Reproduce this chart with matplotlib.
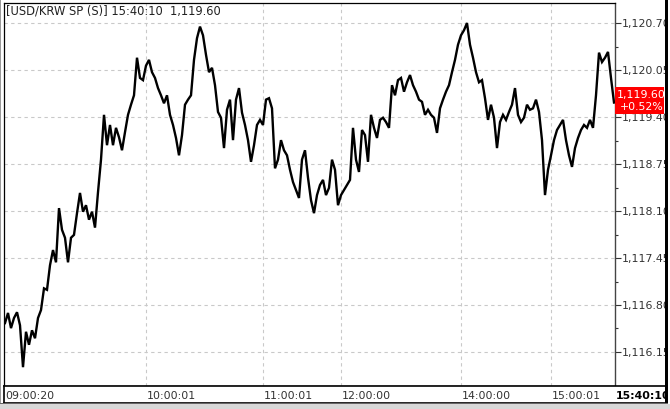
import matplotlib
matplotlib.use("Agg")
import matplotlib.pyplot as plt
from matplotlib.patches import Rectangle
from matplotlib.ticker import FixedLocator, FuncFormatter
import matplotlib.transforms as mtransforms

# ---------------- data ----------------
title_text = "[USD/KRW SP (S)] 15:40:10  1,119.60"
last_price = "1,119.60"
change_pct = "+0.52%"

price = [
    1116.55, 1116.69, 1116.48, 1116.62, 1116.70, 1116.52, 1115.94, 1116.43, 1116.25, 1116.45,
    1116.34, 1116.62, 1116.73, 1117.03, 1117.01, 1117.35, 1117.56, 1117.39, 1118.14, 1117.84,
    1117.73, 1117.39, 1117.73, 1117.77, 1118.07, 1118.35, 1118.09, 1118.18, 1117.98, 1118.09,
    1117.87, 1118.36, 1118.81, 1119.43, 1119.01, 1119.29, 1119.01, 1119.25, 1119.12, 1118.94,
    1119.19, 1119.43, 1119.57, 1119.70, 1120.22, 1119.94, 1119.91, 1120.11, 1120.19, 1120.02,
    1119.94, 1119.80, 1119.70, 1119.59, 1119.70, 1119.43, 1119.29, 1119.11, 1118.87, 1119.15,
    1119.57, 1119.64, 1119.70, 1120.19, 1120.49, 1120.65, 1120.53, 1120.26, 1120.02, 1120.08,
    1119.84, 1119.47, 1119.39, 1118.97, 1119.50, 1119.64, 1119.08, 1119.64, 1119.80, 1119.46,
    1119.29, 1119.08, 1118.78, 1119.01, 1119.29, 1119.36, 1119.29, 1119.64, 1119.66, 1119.52,
    1118.69, 1118.81, 1119.08, 1118.94, 1118.87, 1118.67, 1118.50, 1118.39, 1118.28, 1118.81,
    1118.94, 1118.56, 1118.25, 1118.07, 1118.32, 1118.46, 1118.53, 1118.32, 1118.42, 1118.81,
    1118.67, 1118.18, 1118.32, 1118.39, 1118.46, 1118.53, 1119.25, 1118.81, 1118.64, 1119.22,
    1119.15, 1118.78, 1119.43, 1119.25, 1119.11, 1119.36, 1119.39, 1119.33, 1119.25, 1119.84,
    1119.70, 1119.91, 1119.94, 1119.75, 1119.88, 1119.98, 1119.84, 1119.75, 1119.64, 1119.61,
    1119.43, 1119.50, 1119.43, 1119.39, 1119.18, 1119.52, 1119.64, 1119.75, 1119.84, 1120.02,
    1120.19, 1120.40, 1120.53, 1120.60, 1120.70, 1120.40, 1120.22, 1120.02, 1119.88, 1119.91,
    1119.66, 1119.36, 1119.57, 1119.39, 1118.97, 1119.33, 1119.43, 1119.36, 1119.47, 1119.57,
    1119.80, 1119.43, 1119.33, 1119.39, 1119.57, 1119.50, 1119.52, 1119.64, 1119.47, 1119.08,
    1118.32, 1118.67, 1118.87, 1119.08, 1119.22, 1119.29, 1119.36, 1119.08, 1118.87, 1118.71,
    1118.97, 1119.11, 1119.22, 1119.29, 1119.25, 1119.36, 1119.25, 1119.70, 1120.29, 1120.16,
    1120.22, 1120.30, 1119.94, 1119.60,
]

time_labels = ["09:00:20", "10:00:01", "11:00:01", "12:00:00", "14:00:00", "15:00:01"]
time_label_idx = [0, 47, 86, 112, 152, 182]
last_time = "15:40:10"

y_ticks = [1120.70, 1120.05, 1119.40, 1118.75, 1118.10, 1117.45, 1116.80, 1116.15]

# ---------------- layout ----------------
W, H = 670, 409
fig = plt.figure(figsize=(W / 100, H / 100), dpi=100)
fig.patch.set_facecolor("white")

L, R, T, B = 4, 615, 3, 386
FS = 7.9


def frect(x0, y0, x1, y1, **kw):
    r = Rectangle((x0 / W, 1 - y1 / H), (x1 - x0) / W, (y1 - y0) / H,
                  transform=fig.transFigure, **kw)
    fig.patches.append(r)
    return r


ax = fig.add_axes([L / W, 1 - B / H, (R - L) / W, (B - T) / H])
ax.set_facecolor("white")

n = len(price)
xs = list(range(n))
ax.plot(xs, price, color="black", lw=1.7, solid_joinstyle="miter", zorder=3)

# scales: 47 px between gridlines of 0.65, first gridline at pixel 23
ppu = 47 / 0.65
top_val = y_ticks[0] + (23 - T) / ppu
bot_val = y_ticks[0] - (B - 23) / ppu
ax.set_ylim(bot_val, top_val)
ax.set_xlim((L - 5) / 3, (R - 5) / 3)

# grid
grid_kw = dict(color="#c9c9c9", lw=0.8, linestyle=(0, (3, 3)), zorder=1)
for v in y_ticks:
    ax.axhline(v, **grid_kw)
for i in time_label_idx[1:]:
    ax.axvline(i, **grid_kw)

# y axis on the right
ax.yaxis.tick_right()
ax.yaxis.set_major_locator(FixedLocator(y_ticks))
minor = [v + 0.325 for v in y_ticks]
ax.yaxis.set_minor_locator(FixedLocator(minor))
ax.yaxis.set_major_formatter(FuncFormatter(lambda v, p: f"{v:,.2f}"))
ax.tick_params(axis="y", which="major", length=4, width=0.8, color="#333333",
               labelsize=FS, labelcolor="#333333", pad=0.8)
ax.tick_params(axis="y", which="minor", length=2.5, width=0.8, color="#333333")
ax.set_xticks([])

for s in ["left", "top", "bottom"]:
    ax.spines[s].set_color("black")
    ax.spines[s].set_linewidth(0.9)
ax.spines["right"].set_color("#444444")
ax.spines["right"].set_linewidth(1.0)

# header text
ax.text(2 / (R - L), 1 - 8 / (B - T), title_text, transform=ax.transAxes,
        ha="left", va="center", fontsize=8.3, color="#222222")

# bottom time label box
bax = fig.add_axes([L / W, 1 - 403 / H, (667 - L) / W, (403 - B) / H])
bax.set_xlim(0, 1)
bax.set_ylim(0, 1)
bax.set_xticks([])
bax.set_yticks([])
for s in bax.spines.values():
    s.set_color("black")
    s.set_linewidth(1.2)
trans = mtransforms.blended_transform_factory(ax.transData, bax.transAxes)
for lab, i in zip(time_labels, time_label_idx):
    bax.text(i + 0.2, 0.42, lab, transform=trans, ha="left", va="center",
             fontsize=FS, color="#333333")
bax.text((R - L + 1) / (667 - L), 0.42, last_time, transform=bax.transAxes,
         ha="left", va="center", fontsize=FS, color="black", fontweight="bold")

# red last-price box
frect(615, 87, 664, 114, facecolor="#ff0000", edgecolor="none", zorder=5)
fig.text(617 / W, 1 - 95 / H, last_price, ha="left", va="center",
         fontsize=FS, color="white", zorder=6)
fig.text(620 / W, 1 - 107.5 / H, change_pct, ha="left", va="center",
         fontsize=FS, color="white", zorder=6)

# window frame
frect(664.5, 0, 670, H, facecolor="white", edgecolor="none", zorder=7)
frect(665, 0, 667.5, 404, facecolor="black", edgecolor="none", zorder=8)
frect(0, 0, 1.2, H, facecolor="#9a9a9a", edgecolor="none", zorder=8)
frect(0, 404, 670, 409, facecolor="#d8d8d8", edgecolor="none", zorder=8)
frect(0, 403, 667.5, 404.3, facecolor="#666666", edgecolor="none", zorder=8)

fig.savefig("out.png", dpi=100)
